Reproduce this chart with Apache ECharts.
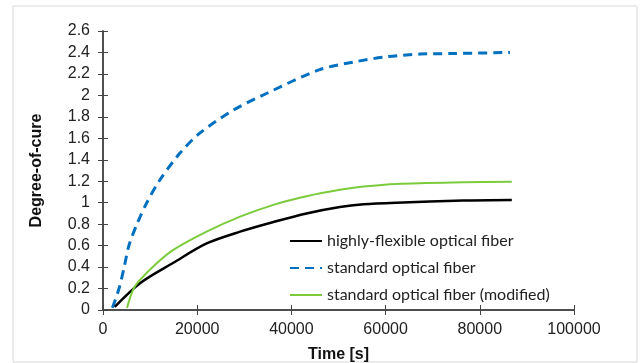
<!DOCTYPE html>
<html>
<head>
<meta charset="utf-8">
<script src="https://cdn.jsdelivr.net/npm/echarts@6/dist/echarts.min.js"></script>
<style>
html,body{margin:0;padding:0;background:#fff;}
#chart{width:642px;height:363px;}
</style>
</head>
<body>
<div id="chart"></div>
<script>
// data
const timeFlex=[2500,7860,14930,22000,29100,36200,43200,50300,55300,62300,76500,86800];
const cureFlex=[0.03,0.25,0.44,0.62,0.73,0.82,0.90,0.96,0.985,1.00,1.02,1.025];
const timeStd=[2000,3400,4500,5500,7200,9300,11900,16300,20600,27600,34800,46000,53100,60300,67300,74300,86400];
const cureStd=[0.02,0.20,0.40,0.60,0.80,1.00,1.20,1.46,1.65,1.86,2.02,2.24,2.31,2.36,2.385,2.39,2.40];
const timeMod=[5100,6400,7860,11400,14930,22000,29100,36200,43200,50300,55300,62300,76500,86800];
const cureMod=[0.02,0.19,0.28,0.435,0.56,0.73,0.87,0.98,1.06,1.12,1.15,1.175,1.19,1.195];
const seriesNames=['highly-flexible optical fiber','standard optical fiber','standard optical fiber (modified)'];

const pair=(xs,ys)=>xs.map((x,i)=>[x,ys[i]]);
const axisCol='#444';

const chart=echarts.init(document.getElementById('chart'));
chart.setOption({
  animation:false,
  graphic:[{type:'rect',shape:{x:13,y:6,width:624,height:356},style:{fill:'none',stroke:'#d9d9d9',lineWidth:1}}],
  grid:{left:103,right:68,top:31,bottom:53,containLabel:false,outerBoundsMode:'none'},
  legend:{
    orient:'vertical',left:284,top:228,itemWidth:32,itemHeight:10,itemGap:11,
    itemStyle:{opacity:0},
    textStyle:{fontFamily:'Lato',fontSize:16,color:'#222'},
    data:seriesNames
  },
  xAxis:[{
    type:'value',min:0,max:100000,interval:20000,
    name:'Time [s]',nameLocation:'middle',nameGap:37,
    nameTextStyle:{fontFamily:'Liberation Sans',fontWeight:'bold',fontSize:16,color:'#111'},
    axisLine:{lineStyle:{color:axisCol,width:1.5}},
    axisTick:{inside:true,length:5,lineStyle:{color:axisCol}},
    axisLabel:{fontFamily:'Liberation Sans',fontSize:16,color:'#222',margin:12,formatter:v=>String(v)},
    splitLine:{show:false}
  },{
    type:'value',min:0,max:100000,interval:20000,position:'top',
    axisLine:{lineStyle:{color:axisCol,width:1.5}},
    axisTick:{inside:true,length:5,lineStyle:{color:axisCol}},
    axisLabel:{show:false},splitLine:{show:false}
  }],
  yAxis:[{
    type:'value',min:0,max:2.6,interval:0.2,
    name:'Degree-of-cure',nameLocation:'middle',nameGap:58,
    nameTextStyle:{fontFamily:'Liberation Sans',fontWeight:'bold',fontSize:16,color:'#111'},
    axisLine:{show:true,lineStyle:{color:axisCol,width:1.5}},
    axisTick:{show:true,inside:true,length:5,lineStyle:{color:axisCol}},
    axisLabel:{fontFamily:'Liberation Sans',fontSize:16,color:'#222',margin:13,
      formatter:v=>String(Math.round(v*10)/10)},
    splitLine:{show:false}
  },{
    type:'value',min:0,max:2.6,interval:0.2,position:'right',
    axisLine:{show:true,lineStyle:{color:axisCol,width:1.5}},
    axisTick:{show:true,inside:true,length:5,lineStyle:{color:axisCol}},
    axisLabel:{show:false},splitLine:{show:false}
  }],
  series:[
    {name:seriesNames[0],type:'line',symbol:'none',smooth:0.3,data:pair(timeFlex,cureFlex),
      lineStyle:{color:'#000',width:2.5},itemStyle:{color:'#000'},z:3},
    {name:seriesNames[1],type:'line',symbol:'none',smooth:0.3,data:pair(timeStd,cureStd),
      lineStyle:{color:'#0070c0',width:3,type:[9,6]},itemStyle:{color:'#0070c0'},z:2},
    {name:seriesNames[2],type:'line',symbol:'none',smooth:0.3,data:pair(timeMod,cureMod),
      lineStyle:{color:'#7ccb3c',width:2},itemStyle:{color:'#7ccb3c'},z:4}
  ]
});
</script>
</body>
</html>
